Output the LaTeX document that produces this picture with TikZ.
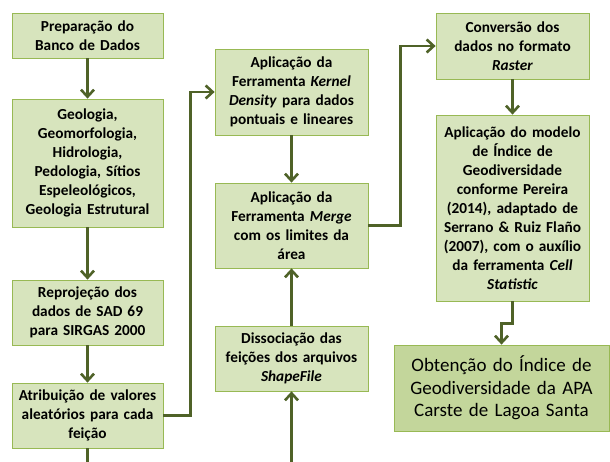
\documentclass[tikz,border=0pt]{standalone}
\usepackage{fontspec}
\setmainfont{Carlito}
\usetikzlibrary{arrows.meta}
\definecolor{boxfill}{HTML}{D7E4BD}
\definecolor{boxline}{HTML}{98B954}
\definecolor{endfill}{HTML}{C3D69B}
\definecolor{arrowgreen}{HTML}{4F6228}
\tikzset{
  stage/.style={draw=boxline, fill=boxfill, line width=0.8pt, align=center,
    inner sep=0pt, font=\bfseries\fontsize{15.3}{19}\selectfont},
  final/.style={draw=boxline, fill=endfill, line width=0.8pt, align=center,
    inner sep=0pt, font=\fontsize{19}{22.5}\selectfont},
  flow/.style={draw=arrowgreen, line width=2.6pt, -{Straight Barb[length=7pt,width=13pt,line width=2.6pt]}},
  link/.style={draw=arrowgreen, line width=2.6pt}
}
\begin{document}
\begin{tikzpicture}[x=1pt,y=-1pt]
\useasboundingbox (0,0) rectangle (610,462);
% Left column
\node[stage, minimum width=151pt, minimum height=45pt, text width=151pt] (prep) at (87.5,35.5) {Preparação do\\Banco de Dados};
\node[stage, minimum width=151pt, minimum height=128pt, text width=151pt] (temas) at (87.5,163) {Geologia,\\Geomorfologia,\\Hidrologia,\\Pedologia, Sítios\\Espeleológicos,\\Geologia Estrutural};
\node[stage, minimum width=151pt, minimum height=65pt, text width=151pt] (reproj) at (87.5,312.5) {Reprojeção dos\\dados de SAD 69\\para SIRGAS 2000};
\node[stage, minimum width=151pt, minimum height=65pt, text width=151pt] (atrib) at (87.5,415.5) {Atribuição de valores\\aleatórios para cada\\feição};

% Middle column
\node[stage, minimum width=153pt, minimum height=86pt, text width=153pt] (kernel) at (291.5,92) {Aplicação da\\Ferramenta \textit{Kernel}\\\textit{Density} para dados\\pontuais e lineares};
\node[stage, minimum width=153pt, minimum height=85pt, text width=153pt] (merge) at (291.5,225.5) {Aplicação da\\Ferramenta \textit{Merge}\\com os limites da\\área};
\node[stage, minimum width=153pt, minimum height=65pt, text width=153pt] (dissoc) at (291.5,358.5) {Dissociação das\\feições dos arquivos\\\textit{ShapeFile}};

% Right column
\node[stage, minimum width=153pt, minimum height=66pt, text width=153pt] (raster) at (512.5,46) {Conversão dos\\dados no formato\\\textit{Raster}};
\node[stage, minimum width=153pt, minimum height=186pt, text width=153pt] (modelo) at (512.5,208) {Aplicação do modelo\\de Índice de\\Geodiversidade\\conforme Pereira\\(2014), adaptado de\\Serrano \& Ruiz Flaño\\(2007), com o auxílio\\da ferramenta \textit{Cell}\\\textit{Statistic}};
\node[final, minimum width=215pt, minimum height=86pt, text width=215pt] (indice) at (501.5,388) {Obtenção do Índice de\\Geodiversidade da APA\\Carste de Lagoa Santa};

% Free ends at the bottom edge
\coordinate (fimA) at (87.5,462);
\coordinate (fimB) at (291.5,462);

% Connectors
\draw[flow] (prep) -- (temas);
\draw[flow] (temas) -- (reproj);
\draw[flow] (reproj) -- (atrib);
\draw[link] (atrib) -- (fimA);
\draw[flow] (atrib.east) -- ++(27,0) |- (kernel.west);
\draw[flow] (kernel) -- (merge);
\draw[flow] (dissoc) -- (merge);
\draw[flow] (fimB) -- (dissoc);
\draw[flow] (merge.east) -- ++(32,0) |- (raster.west);
\draw[flow] (raster) -- (modelo);
\draw[flow] (modelo.south) -- ++(0,22) -| (indice.north);
\end{tikzpicture}
\end{document}
